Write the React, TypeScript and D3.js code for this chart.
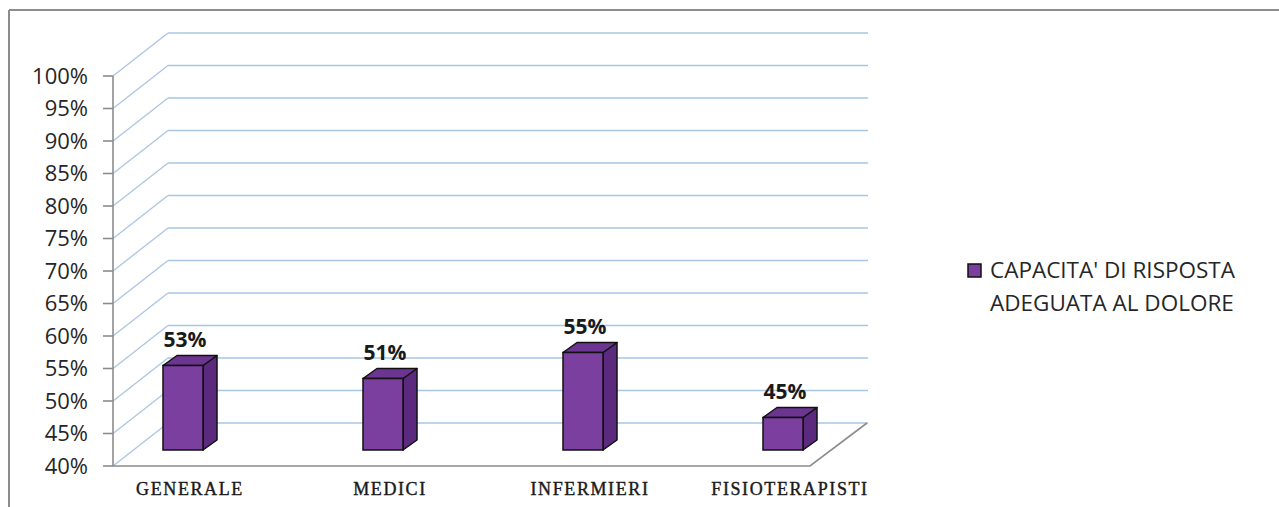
import React from "react";
import * as d3 from "d3";

const categories = ["GENERALE", "MEDICI", "INFERMIERI", "FISIOTERAPISTI"];
const values = [53, 51, 55, 45];
const yTicks = [40, 45, 50, 55, 60, 65, 70, 75, 80, 85, 90, 95, 100];
const legendLines = ["CAPACITA' DI RISPOSTA", "ADEGUATA AL DOLORE"];

const W = 1279;
const H = 507;

export default function App() {
  const y = d3.scaleLinear().domain([40, 100]).range([466, 76]);
  const x = d3.scaleBand<string>().domain(categories).range([90, 890]).padding(0);
  const axisX = 113;
  const depthX = 55;
  const depthY = -43;
  const floorRight = 810;
  const barW = 40;
  const sideDx = 14;
  const sideDy = -10;
  const barShiftY = -16;

  const gridColor = "#a9c6e4";
  const axisColor = "#8c8c8c";
  const front = "#7b3fa0";
  const side = "#5b2a7e";
  const top = "#6c3592";
  const sans = "'Open Sans', 'DejaVu Sans', sans-serif";

  return (
    <svg
      width={W}
      height={H}
      style={{ position: "absolute", left: 0, top: 0, display: "block", background: "#ffffff" }}
    >
      {/* frame */}
      <line x1={9} y1={10} x2={W} y2={10} stroke={axisColor} strokeWidth={2} />
      <line x1={9} y1={10} x2={9} y2={H} stroke={axisColor} strokeWidth={2} />

      {/* walls gridlines */}
      {yTicks.map((t) => (
        <g key={"g" + t}>
          <line
            x1={axisX}
            y1={y(t)}
            x2={axisX + depthX}
            y2={y(t) + depthY}
            stroke={gridColor}
            strokeWidth={1.3}
          />
          <line
            x1={axisX + depthX}
            y1={y(t) + depthY}
            x2={868}
            y2={y(t) + depthY}
            stroke={gridColor}
            strokeWidth={1.3}
          />
        </g>
      ))}

      {/* floor front edges */}
      <polyline
        points={`${axisX},${y(40)} ${floorRight},${y(40)} ${floorRight + 57},${y(40) + depthY}`}
        fill="none"
        stroke={axisColor}
        strokeWidth={1.6}
      />

      {/* y axis */}
      <line x1={axisX} y1={y(100)} x2={axisX} y2={y(40)} stroke={axisColor} strokeWidth={1.6} />
      {yTicks.map((t) => (
        <g key={"t" + t}>
          <line x1={axisX - 10} y1={y(t)} x2={axisX} y2={y(t)} stroke={axisColor} strokeWidth={1.6} />
          <text
            x={88}
            y={y(t)}
            dy="0.36em"
            textAnchor="end"
            fontFamily={sans}
            fontSize={22}
            fill="#262626"
          >
            {t}%
          </text>
        </g>
      ))}

      {/* bars */}
      {categories.map((c, i) => {
        const cx = (x(c) as number) + x.bandwidth() / 2;
        const left = cx - (barW + sideDx) / 2;
        const right = left + barW;
        const bottom = y(40) + barShiftY;
        const tp = y(values[i]) + barShiftY;
        return (
          <g key={c}>
            <polygon
              points={`${right},${tp} ${right + sideDx},${tp + sideDy} ${right + sideDx},${bottom + sideDy} ${right},${bottom}`}
              fill={side}
              stroke="#111"
              strokeWidth={1.5}
              strokeLinejoin="round"
            />
            <polygon
              points={`${left},${tp} ${left + sideDx},${tp + sideDy} ${right + sideDx},${tp + sideDy} ${right},${tp}`}
              fill={top}
              stroke="#111"
              strokeWidth={1.5}
              strokeLinejoin="round"
            />
            <rect
              x={left}
              y={tp}
              width={barW}
              height={bottom - tp}
              fill={front}
              stroke="#111"
              strokeWidth={1.5}
            />
            <text
              x={left + barW / 2 + 2}
              y={tp - 19}
              textAnchor="middle"
              fontFamily={sans}
              fontWeight="bold"
              fontSize={21}
              fill="#1a1a1a"
            >
              {values[i]}%
            </text>
            <text
              x={cx}
              y={495}
              textAnchor="middle"
              fontFamily="'Liberation Serif', 'Times New Roman', serif"
              fontSize={18}
              letterSpacing={1.6}
              fill="#1a1a1a"
              stroke="#1a1a1a"
              strokeWidth={0.4}
            >
              {c}
            </text>
          </g>
        );
      })}

      {/* legend */}
      <rect x={968} y={264} width={13} height={13} fill={front} stroke="#111" strokeWidth={1.5} />
      {legendLines.map((l, i) => (
        <text
          key={l}
          x={990}
          y={278 + i * 33}
          fontFamily={sans}
          fontSize={22.5}
          fill="#262626"
        >
          {l}
        </text>
      ))}
    </svg>
  );
}
